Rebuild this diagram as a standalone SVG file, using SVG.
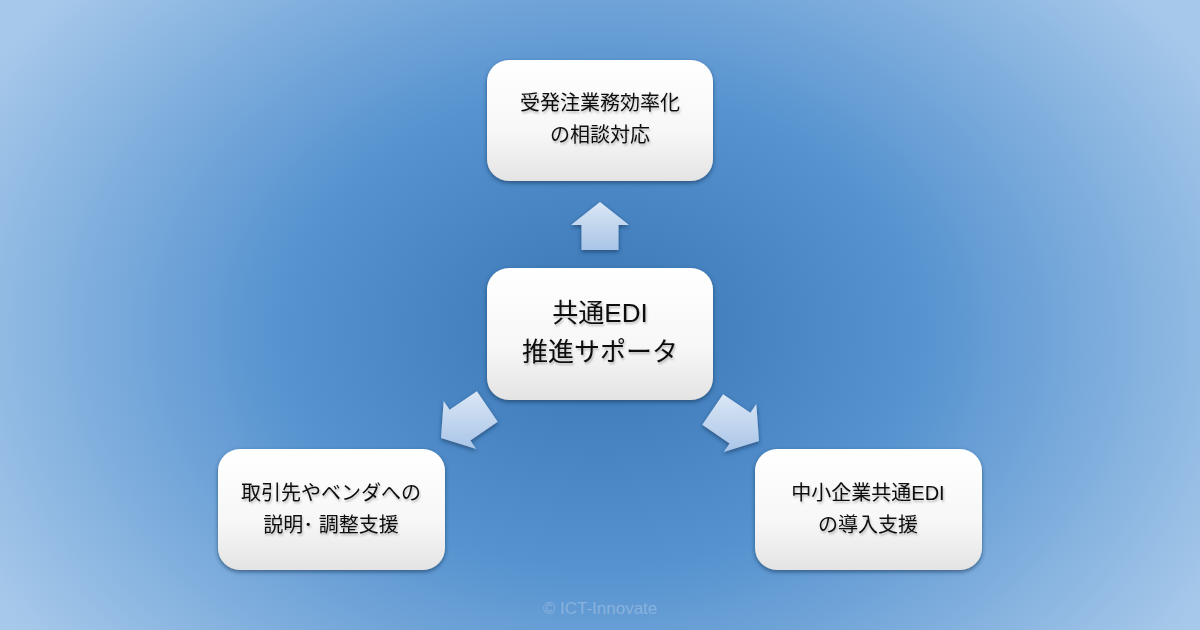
<svg xmlns="http://www.w3.org/2000/svg" width="1200" height="630" viewBox="0 0 1200 630">
<defs>
<radialGradient id="bg" cx="600" cy="330" r="700" gradientUnits="userSpaceOnUse" gradientTransform="translate(600 330) scale(1 0.75) translate(-600 -330)">
<stop offset="0" stop-color="#3a76b4"/>
<stop offset="0.45" stop-color="#5592cf"/>
<stop offset="1" stop-color="#a6c8ea"/>
</radialGradient>
<linearGradient id="box" x1="0" y1="0" x2="0" y2="1">
<stop offset="0" stop-color="#ffffff"/>
<stop offset="0.6" stop-color="#f7f7f7"/>
<stop offset="1" stop-color="#e4e4e4"/>
</linearGradient>
<linearGradient id="arr" x1="0" y1="0" x2="0" y2="1">
<stop offset="0" stop-color="#dbe7f5"/>
<stop offset="1" stop-color="#a9c5e8"/>
</linearGradient>
<filter id="sh" x="-10%" y="-10%" width="120%" height="130%">
<feDropShadow dx="0" dy="2" stdDeviation="2" flood-color="#0b2a50" flood-opacity="0.6"/>
</filter>
<filter id="tsh" x="-5%" y="-20%" width="110%" height="150%">
<feDropShadow dx="1" dy="2" stdDeviation="1" flood-color="#000" flood-opacity="0.25"/>
</filter>
</defs>
<style>
.box{fill:url(#box);filter:url(#sh)}
.t{font-family:"Liberation Sans","Noto Sans CJK JP",sans-serif;fill:#111;text-anchor:middle;filter:url(#tsh)}
.s{font-size:20px}
.l{font-size:26px}
.arrow{fill:url(#arr);filter:url(#sh)}
</style>
<rect width="1200" height="630" fill="url(#bg)"/>
<g id="connectors">
<polygon class="arrow" points="600,202 629,225 618.5,225 618.5,250 581.5,250 581.5,225 571,225"/>
<polygon class="arrow" points="441,438 476.3,449.1 470.4,440.4 497.7,421.8 476.9,391.2 449.6,409.8 443.7,401.1"/>
<polygon class="arrow" points="759,441 723.7,452.1 729.6,443.4 702.3,424.8 723.1,394.2 750.4,412.8 756.3,404.1"/>
</g>
<g id="node-top">
<rect class="box" x="487" y="60" width="226" height="121" rx="22"/>
<text class="t s" x="600" y="110">受発注業務効率化</text>
<text class="t s" x="600" y="142">の相談対応</text>
</g>
<g id="node-center">
<rect class="box" x="487" y="268" width="226" height="132" rx="22"/>
<text class="t l" x="600" y="322">共通EDI</text>
<text class="t l" x="600" y="361">推進サポータ</text>
</g>
<g id="node-left">
<rect class="box" x="218" y="449" width="227" height="121" rx="22"/>
<text class="t s" x="331" y="500">取引先やベンダへの</text>
<text class="t s" x="331" y="532">説明･ 調整支援</text>
</g>
<g id="node-right">
<rect class="box" x="755" y="449" width="227" height="121" rx="22"/>
<text class="t s" x="868" y="500">中小企業共通EDI</text>
<text class="t s" x="868" y="532">の導入支援</text>
</g>
<text x="600" y="614" font-family="Liberation Sans, Arial, sans-serif" font-size="17" fill="#88b2de" text-anchor="middle">© ICT-Innovate</text>
</svg>
